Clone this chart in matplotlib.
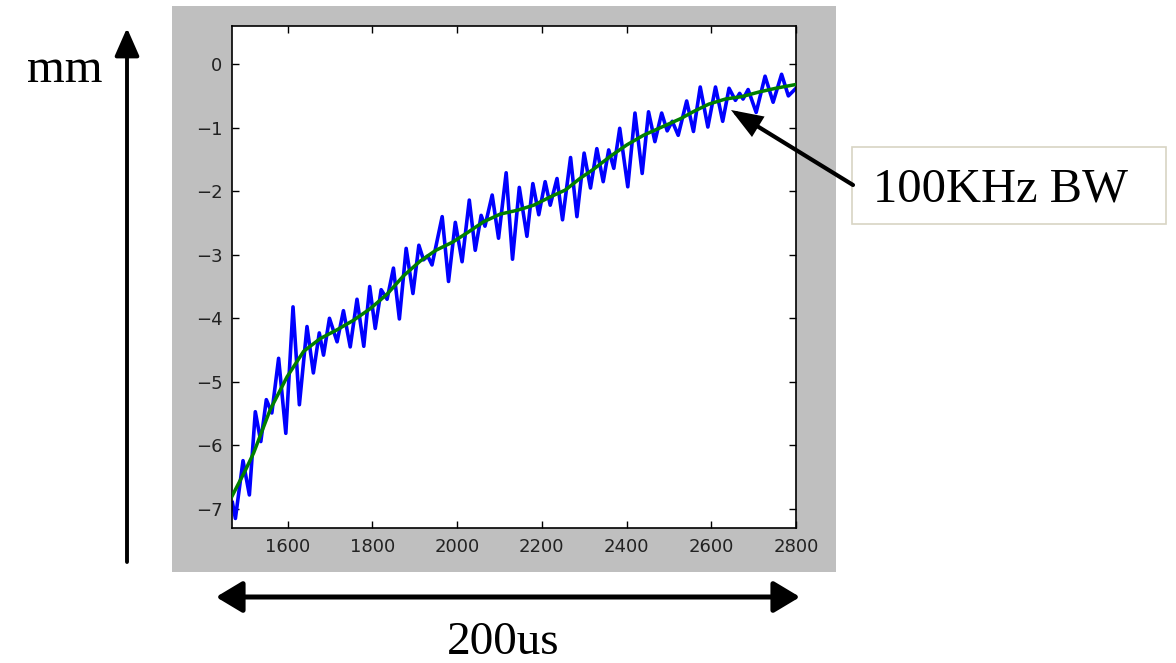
import matplotlib
matplotlib.use("Agg")
import matplotlib.pyplot as plt
from matplotlib.patches import Rectangle, FancyArrowPatch

# ---- data ----
raw_x = [1470, 1477, 1495, 1510, 1524, 1537, 1550, 1563, 1579, 1596, 1613, 1628,
         1646, 1661, 1675, 1685, 1699, 1717, 1732, 1748, 1764, 1780, 1794, 1807,
         1821, 1835, 1850, 1864, 1880, 1896, 1910, 1921, 1931, 1941, 1965, 1980,
         1996, 2012, 2029, 2043, 2057, 2066, 2083, 2098, 2116, 2131, 2147, 2165,
         2179, 2193, 2208, 2220, 2236, 2249, 2268, 2283, 2300, 2315, 2330, 2345,
         2358, 2370, 2384, 2403, 2420, 2437, 2452, 2467, 2483, 2496, 2508, 2522,
         2542, 2558, 2574, 2592, 2610, 2627, 2642, 2657, 2667, 2675, 2687, 2706,
         2727, 2746, 2766, 2782, 2800]
raw_y = [-6.90, -7.15, -6.24, -6.78, -5.47, -5.94, -5.28, -5.49, -4.63, -5.81, -3.82, -5.36,
         -4.13, -4.86, -4.23, -4.58, -4.00, -4.37, -3.88, -4.45, -3.70, -4.44, -3.50, -4.16,
         -3.55, -3.70, -3.21, -4.01, -2.90, -3.61, -2.85, -3.08, -3.02, -3.16, -2.40, -3.42,
         -2.49, -3.11, -2.14, -2.93, -2.38, -2.55, -2.06, -2.74, -1.71, -3.07, -1.94, -2.71,
         -1.88, -2.37, -1.85, -2.22, -1.80, -2.45, -1.47, -2.40, -1.40, -1.95, -1.33, -1.85,
         -1.35, -1.64, -1.01, -1.93, -0.77, -1.72, -0.75, -1.22, -0.77, -1.05, -0.90, -1.12,
         -0.58, -1.06, -0.36, -0.99, -0.36, -0.90, -0.38, -0.57, -0.46, -0.55, -0.40, -0.76,
         -0.19, -0.60, -0.16, -0.50, -0.38]

filt_x = [1469, 1500, 1520, 1559, 1599, 1638, 1677, 1717, 1756, 1795, 1835, 1874,
          1913, 1950, 1990, 2025, 2063, 2102, 2142, 2181, 2220, 2256, 2290, 2323,
          2362, 2401, 2440, 2480, 2527, 2560, 2594, 2633, 2673, 2712, 2752, 2800]
filt_y = [-6.80, -6.40, -6.12, -5.44, -4.92, -4.52, -4.32, -4.18, -4.03, -3.85, -3.62, -3.33,
          -3.10, -2.93, -2.80, -2.65, -2.48, -2.36, -2.30, -2.22, -2.09, -1.98, -1.80, -1.65,
          -1.45, -1.27, -1.12, -1.00, -0.86, -0.74, -0.63, -0.55, -0.51, -0.44, -0.38, -0.32]

x_ticks = [1600, 1800, 2000, 2200, 2400, 2600, 2800]
y_ticks = [-7, -6, -5, -4, -3, -2, -1, 0]

W, H = 1176, 663
fig = plt.figure(figsize=(W / 100, H / 100), dpi=100, facecolor="white")

# grey panel behind the plot
panel = Rectangle((172 / W, 1 - 572 / H), (836 - 172) / W, (572 - 6) / H,
                  transform=fig.transFigure, facecolor="#bfbfbf", edgecolor="none", zorder=-1)
fig.add_artist(panel)

ax = fig.add_axes([232 / W, 1 - 528 / H, (796 - 232) / W, (528 - 26) / H], zorder=1)
ax.set_facecolor("white")
ax.plot(raw_x, raw_y, color="#0000ff", lw=2.6, solid_joinstyle="round", zorder=2)
ax.plot(filt_x, filt_y, color="#007f00", lw=2.5, solid_joinstyle="round", zorder=3)
ax.set_xlim(1469, 2800)
ax.set_ylim(-7.3, 0.6)
ax.set_xticks(x_ticks)
ax.set_yticks(y_ticks)
ax.tick_params(direction="in", length=5, width=1, top=True, right=True,
               labelsize=13, pad=7, colors="black", labelcolor="#222222")
for s in ax.spines.values():
    s.set_linewidth(1.2)
    s.set_color("black")

# overlay for slide annotations (pixel coordinates, y measured from the top)
ov = fig.add_axes([0, 0, 1, 1], zorder=5)
ov.set_xlim(0, W)
ov.set_ylim(0, H)
ov.axis("off")
ov.patch.set_alpha(0)


def fy(y):
    return H - y


serif = ["Liberation Serif", "DejaVu Serif"]

ov.text(65, fy(82), "mm", family=serif, fontsize=35, ha="center", va="baseline")
ov.add_patch(FancyArrowPatch((127, fy(562)), (127, fy(28)),
                             arrowstyle="-|>,head_length=0.5,head_width=0.22",
                             mutation_scale=34, lw=2.8, color="black", shrinkA=0, shrinkB=0))
ov.add_patch(FancyArrowPatch((216, fy(597)), (800, fy(597)),
                             arrowstyle="<|-|>,head_length=0.5,head_width=0.3",
                             mutation_scale=32, lw=3.6, color="black", shrinkA=0, shrinkB=0))
ov.text(503, fy(654), "200us", family=serif, fontsize=34, ha="center", va="baseline")

ov.add_patch(Rectangle((852, fy(224)), 1166 - 852, 224 - 147, facecolor="white",
                       edgecolor="#d8d4c4", lw=1.2))
ov.text(873, fy(202), "100KHz BW", family=serif, fontsize=35, ha="left", va="baseline")
ov.add_patch(FancyArrowPatch((853, fy(185)), (731, fy(110)),
                             arrowstyle="-|>,head_length=0.72,head_width=0.27",
                             mutation_scale=24, lw=3.0, color="black", shrinkA=0, shrinkB=0,
                             joinstyle="miter"))

fig.savefig("out.png", dpi=100, facecolor="white")
